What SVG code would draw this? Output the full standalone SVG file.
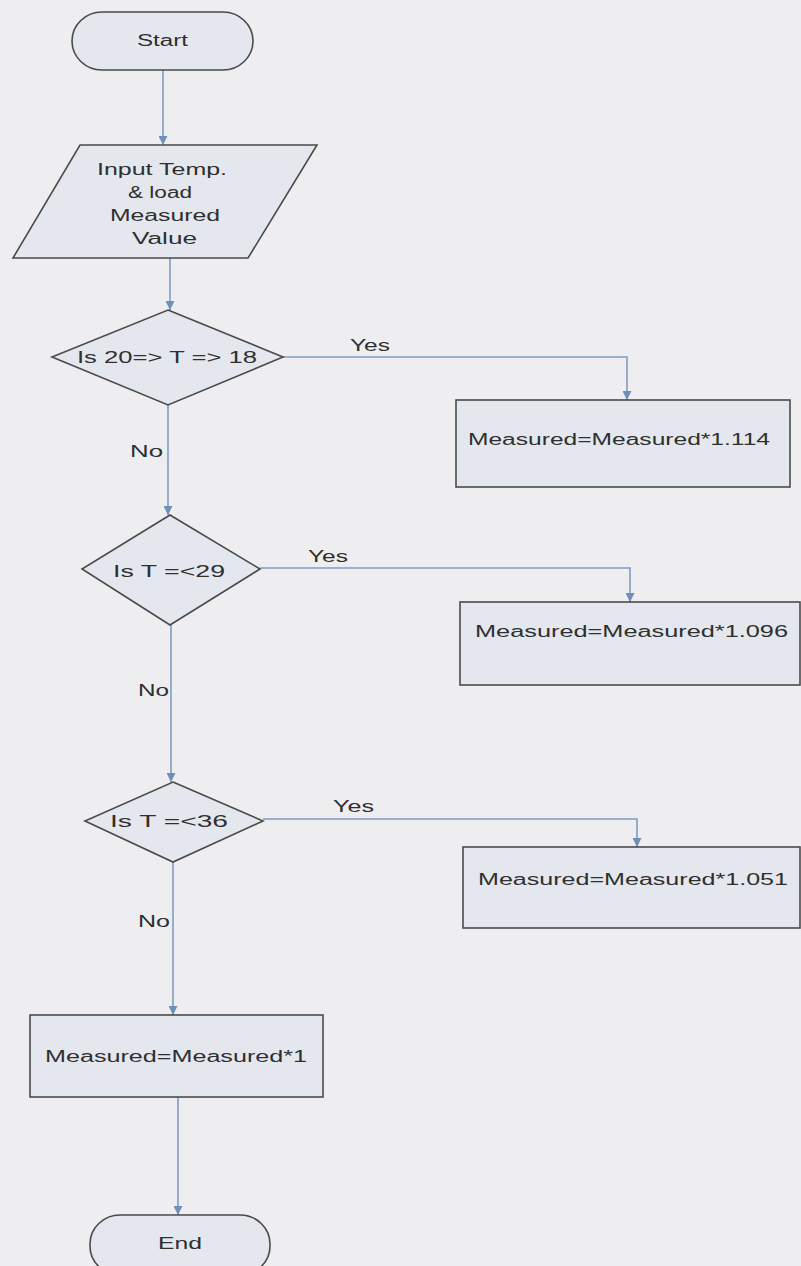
<svg xmlns="http://www.w3.org/2000/svg" width="801" height="1266" viewBox="0 0 801 1266">
<defs>
<style>
.shape{fill:#e4e8ee;stroke:#4a4a4a;stroke-width:1.6}
.conn{fill:none;stroke:#7f9cc2;stroke-width:1.6}
.t{font-family:"Liberation Sans",Arial,sans-serif;font-size:16px;fill:#2f2f2f;text-anchor:start}
.c{text-anchor:middle}
</style>
<marker id="arr" viewBox="0 0 10 10" refX="10" refY="5" markerWidth="9" markerHeight="9" markerUnits="userSpaceOnUse" orient="auto">
<path d="M0,0 L10,5 L0,10 z" fill="#6f8fb8"/>
</marker>
</defs>
<rect x="0" y="0" width="801" height="1266" fill="#eeeef0"/>

<g id="connectors">
<path class="conn" d="M163,70 V145" marker-end="url(#arr)"/>
<path class="conn" d="M170,258 V310" marker-end="url(#arr)"/>
<path class="conn" d="M283,357 H627 V400" marker-end="url(#arr)"/>
<path class="conn" d="M168,405 V515" marker-end="url(#arr)"/>
<path class="conn" d="M260,568 H630 V602" marker-end="url(#arr)"/>
<path class="conn" d="M171,625 V782" marker-end="url(#arr)"/>
<path class="conn" d="M263,819 H637 V847" marker-end="url(#arr)"/>
<path class="conn" d="M173,862 V1015" marker-end="url(#arr)"/>
<path class="conn" d="M178,1097 V1215" marker-end="url(#arr)"/>
<text class="t" x="350" y="351" textLength="40" lengthAdjust="spacingAndGlyphs">Yes</text>
<text class="t" x="130" y="457" textLength="33" lengthAdjust="spacingAndGlyphs">No</text>
<text class="t" x="308" y="562" textLength="40" lengthAdjust="spacingAndGlyphs">Yes</text>
<text class="t" x="138" y="696" textLength="31" lengthAdjust="spacingAndGlyphs">No</text>
<text class="t" x="333" y="812" textLength="41" lengthAdjust="spacingAndGlyphs">Yes</text>
<text class="t" x="138" y="927" textLength="32" lengthAdjust="spacingAndGlyphs">No</text>
</g>

<g id="start">
<rect class="shape" x="72" y="12" width="181" height="58" rx="30" ry="29"/>
<text class="t" x="137" y="46" textLength="51" lengthAdjust="spacingAndGlyphs">Start</text>
</g>

<g id="input">
<polygon class="shape" points="80,145 317,145 248,258 13,258"/>
<text class="t" x="97" y="175" textLength="130" lengthAdjust="spacingAndGlyphs">Input Temp.</text>
<text class="t" x="128" y="198" textLength="64" lengthAdjust="spacingAndGlyphs">&amp; load</text>
<text class="t" x="110" y="221" textLength="110" lengthAdjust="spacingAndGlyphs">Measured</text>
<text class="t" x="132" y="244" textLength="65" lengthAdjust="spacingAndGlyphs">Value</text>
</g>

<g id="decision1">
<polygon class="shape" points="168,310 283,357 168,405 52,357"/>
<text class="t" x="77" y="363" textLength="180" lengthAdjust="spacingAndGlyphs">Is 20=&gt; T =&gt; 18</text>
</g>

<g id="process1">
<rect class="shape" x="456" y="400" width="334" height="87"/>
<text class="t" x="468" y="445" textLength="302" lengthAdjust="spacingAndGlyphs">Measured=Measured*1.114</text>
</g>

<g id="decision2">
<polygon class="shape" points="170,515 260,569 170,625 82,569"/>
<text class="t" x="113" y="577" textLength="112" lengthAdjust="spacingAndGlyphs">Is  T =&lt;29</text>
</g>

<g id="process2">
<rect class="shape" x="460" y="602" width="340" height="83"/>
<text class="t" x="475" y="637" textLength="313" lengthAdjust="spacingAndGlyphs">Measured=Measured*1.096</text>
</g>

<g id="decision3">
<polygon class="shape" points="173,782 263,821 173,862 85,821"/>
<text class="t" x="110" y="827" textLength="118" lengthAdjust="spacingAndGlyphs">Is  T =&lt;36</text>
</g>

<g id="process3">
<rect class="shape" x="463" y="847" width="337" height="81"/>
<text class="t" x="478" y="885" textLength="310" lengthAdjust="spacingAndGlyphs">Measured=Measured*1.051</text>
</g>

<g id="process4">
<rect class="shape" x="30" y="1015" width="293" height="82"/>
<text class="t" x="45" y="1062" textLength="262" lengthAdjust="spacingAndGlyphs">Measured=Measured*1</text>
</g>

<g id="end">
<rect class="shape" x="90" y="1215" width="180" height="60" rx="30" ry="29"/>
<text class="t" x="158" y="1249" textLength="44" lengthAdjust="spacingAndGlyphs">End</text>
</g>
</svg>
